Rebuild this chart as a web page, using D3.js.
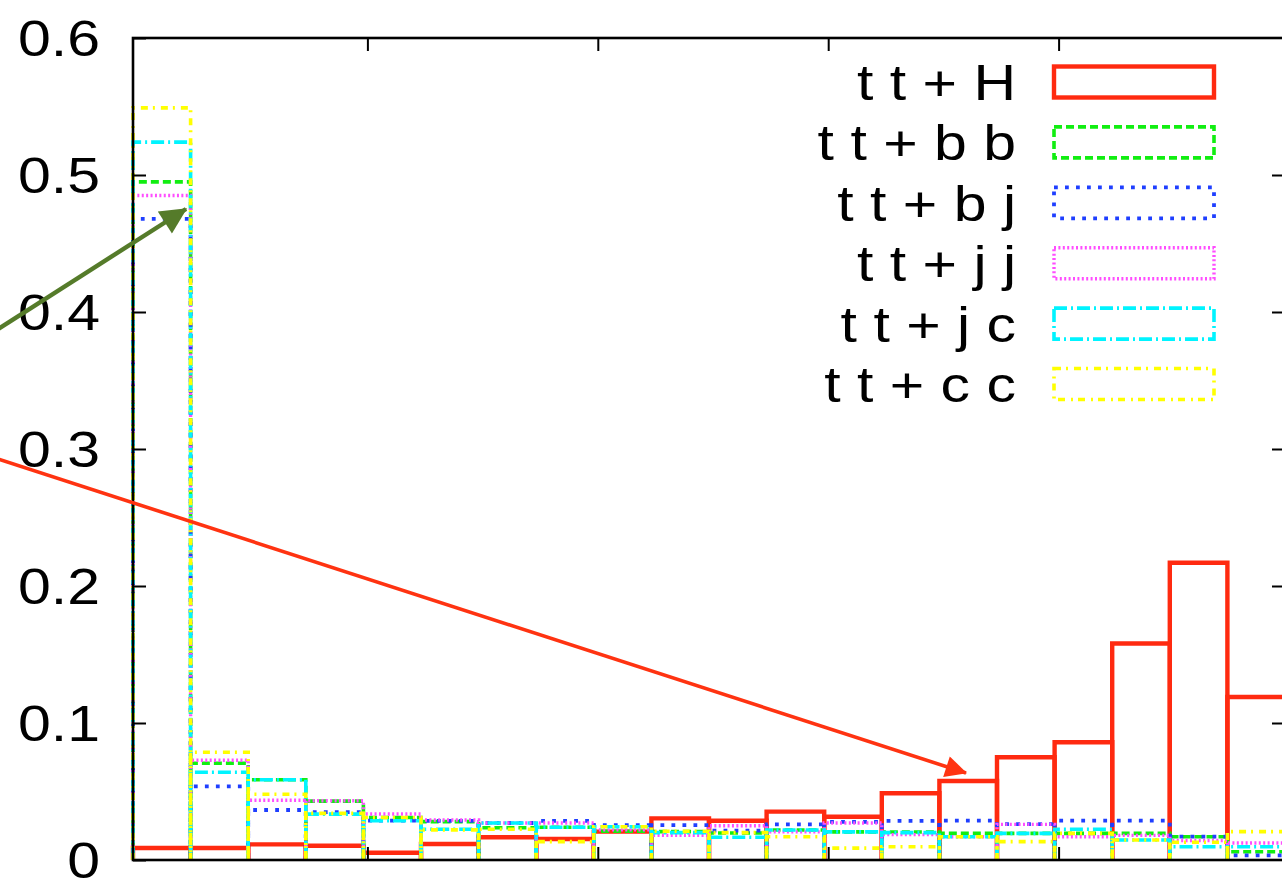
<!DOCTYPE html>
<html>
<head>
<meta charset="utf-8">
<script src="https://cdn.jsdelivr.net/npm/d3@7/dist/d3.min.js"></script>
<style>
  html, body { margin: 0; padding: 0; background: #fff; }
  svg { display: block; }
  text { font-family: "Liberation Sans", Arial, Helvetica, sans-serif; fill: #000; }
</style>
</head>
<body>
<svg id="chart" width="1282" height="881"></svg>
<script>
// Bin indices along the horizontal axis (20 equal-width bins)
const bins = [0, 1, 2, 3, 4, 5, 6, 7, 8, 9, 10, 11, 12, 13, 14, 15, 16, 17, 18, 19];

// Normalised distributions per process
const ttH  = [0.0088, 0.0088, 0.0114, 0.0104, 0.0053, 0.0117, 0.0166, 0.0153, 0.0207, 0.0304,
              0.0287, 0.0353, 0.0316, 0.0487, 0.0577, 0.0750, 0.0860, 0.1580, 0.2170, 0.1190];
const ttbb = [0.495, 0.0706, 0.0586, 0.0430, 0.0310, 0.0280, 0.0235, 0.0239, 0.0210, 0.0207,
              0.0197, 0.0219, 0.0205, 0.0204, 0.0194, 0.0194, 0.0194, 0.0194, 0.0170, 0.0060];
const ttbj = [0.468, 0.0538, 0.0365, 0.0350, 0.0287, 0.0285, 0.0270, 0.0285, 0.0255, 0.0255,
              0.0215, 0.0260, 0.0278, 0.0286, 0.0288, 0.0262, 0.0287, 0.0287, 0.0170, 0.0034];
const ttjj = [0.485, 0.0728, 0.0436, 0.0432, 0.0336, 0.0292, 0.0270, 0.0270, 0.0220, 0.0180,
              0.0250, 0.0205, 0.0270, 0.0185, 0.0170, 0.0260, 0.0170, 0.0180, 0.0142, 0.0124];
const ttjc = [0.524, 0.0640, 0.0586, 0.0335, 0.0287, 0.0225, 0.0270, 0.0239, 0.0243, 0.0200,
              0.0166, 0.0219, 0.0205, 0.0200, 0.0170, 0.0194, 0.0224, 0.0146, 0.0097, 0.0097];
const ttcc = [0.549, 0.0786, 0.0480, 0.0340, 0.0310, 0.0220, 0.0225, 0.0134, 0.0243, 0.0210,
              0.0200, 0.0170, 0.0087, 0.0097, 0.0170, 0.0134, 0.0194, 0.0146, 0.0130, 0.0207];

const seriesNames = ["t t + H", "t t + b b", "t t + b j", "t t + j j", "t t + j c", "t t + c c"];
const seriesValues = [ttH, ttbb, ttbj, ttjj, ttjc, ttcc];

// Y tick labels
const yTicks = [0, 0.1, 0.2, 0.3, 0.4, 0.5, 0.6];
const yTickLabels = ["0", "0.1", "0.2", "0.3", "0.4", "0.5", "0.6"];
// Mirrored tick marks on the horizontal axes (every 4 bins)
const xTicks = [4, 8, 12, 16];

// Line styles for each process
const styles = [
  { color: "#ff2a10", width: 4.4, dash: null },
  { color: "#11ee11", width: 3.6, dash: "8,4" },
  { color: "#1f3fff", width: 3.8, dash: "3.8,7.2" },
  { color: "#ff4dff", width: 3.4, dash: "2,2.4" },
  { color: "#00f4ff", width: 3.6, dash: "13,4,2,4" },
  { color: "#ffff00", width: 3.6, dash: "7,5,2,6" }
];

const svg = d3.select("#chart");
const plotL = 133, plotR = 1285, plotT = 38, plotB = 860;
const x = d3.scaleLinear().domain([0, 20]).range([plotL, plotR]);
const y = d3.scaleLinear().domain([0, 0.6]).range([plotB, plotT]);

const fontSize = 50, stretch = 1.18;

// Histogram boxes: each bin drawn as an open box (left, top, right sides)
const plot = svg.append("g");
seriesValues.forEach((vals, si) => {
  const st = styles[si];
  plot.append("g")
    .selectAll("path")
    .data(bins)
    .join("path")
    .attr("d", b => {
      const x0 = x(b), x1 = x(b + 1), yv = y(vals[b]), y0 = y(0);
      return `M${x0},${y0}L${x0},${yv}L${x1},${yv}L${x1},${y0}`;
    })
    .attr("fill", "none")
    .attr("stroke", st.color)
    .attr("stroke-width", st.width)
    .attr("stroke-dasharray", st.dash)
    .attr("stroke-linejoin", "miter");
});

// Frame and axes
const frame = svg.append("g");
frame.append("rect")
  .attr("x", plotL).attr("y", plotT)
  .attr("width", plotR - plotL).attr("height", plotB - plotT)
  .attr("fill", "none").attr("stroke", "#000").attr("stroke-width", 2.6);

const yAxis = d3.axisLeft(y).tickValues(yTicks)
  .tickFormat((d, i) => yTickLabels[i]).tickSize(-13).tickPadding(33);
const gy = svg.append("g").attr("transform", `translate(${plotL},0)`).call(yAxis);
gy.select(".domain").remove();
gy.selectAll(".tick line").attr("stroke", "#000").attr("stroke-width", 2);
gy.selectAll(".tick text")
  .attr("x", 0)
  .attr("dy", "0.35em")
  .attr("transform", `translate(-33,0) scale(${stretch},1)`)
  .style("font-size", fontSize + "px")
  .style("font-family", "'Liberation Sans', Arial, sans-serif");

const yAxisR = d3.axisRight(y).tickValues(yTicks.slice(1, -1)).tickSize(-13).tickFormat("");
const gyr = svg.append("g").attr("transform", `translate(${plotR},0)`).call(yAxisR);
gyr.select(".domain").remove();
gyr.selectAll(".tick line").attr("stroke", "#000").attr("stroke-width", 2);

const xTop = d3.axisTop(x).tickValues(xTicks).tickSize(-13).tickFormat("");
const gxt = svg.append("g").attr("transform", `translate(4,${plotT})`).call(xTop);
gxt.select(".domain").remove();
gxt.selectAll(".tick line").attr("stroke", "#000").attr("stroke-width", 2);

const xBot = d3.axisBottom(x).tickValues(xTicks).tickSize(-13).tickFormat("");
const gxb = svg.append("g").attr("transform", `translate(4,${plotB})`).call(xBot);
gxb.select(".domain").remove();
gxb.selectAll(".tick line").attr("stroke", "#000").attr("stroke-width", 2);

// Legend
const legend = svg.append("g");
const legRow0 = 82, legStep = 60.4, legTextX = 1016, sampleX0 = 1054, sampleX1 = 1214, sampleH = 31;
seriesNames.forEach((name, i) => {
  const cy = legRow0 + i * legStep;
  legend.append("text")
    .attr("x", 0).attr("y", 0).attr("dy", "0.36em")
    .attr("text-anchor", "end")
    .attr("transform", `translate(${legTextX},${cy}) scale(${stretch},1)`)
    .style("font-size", fontSize + "px")
    .text(name);
  const st = styles[i];
  legend.append("rect")
    .attr("x", sampleX0).attr("y", cy - sampleH / 2)
    .attr("width", sampleX1 - sampleX0).attr("height", sampleH)
    .attr("fill", "none")
    .attr("stroke", st.color)
    .attr("stroke-width", st.width)
    .attr("stroke-dasharray", st.dash);
});

// Annotation arrows
const defs = svg.append("defs");
function marker(id, color) {
  defs.append("marker")
    .attr("id", id).attr("viewBox", "0 0 10 10")
    .attr("refX", 9.5).attr("refY", 5)
    .attr("markerWidth", 7.5).attr("markerHeight", 6)
    .attr("markerUnits", "strokeWidth")
    .attr("orient", "auto")
    .append("path").attr("d", "M0,0L10,5L0,10Z").attr("fill", color);
}
marker("headGreen", "#557b2a");
marker("headRed", "#ff3311");

const arrows = svg.append("g");
arrows.append("line")
  .attr("x1", -5).attr("y1", 331).attr("x2", 186).attr("y2", 209)
  .attr("stroke", "#557b2a").attr("stroke-width", 4.4)
  .attr("marker-end", "url(#headGreen)");
arrows.append("line")
  .attr("x1", -5).attr("y1", 458).attr("x2", 966).attr("y2", 773)
  .attr("stroke", "#ff3311").attr("stroke-width", 3.6)
  .attr("marker-end", "url(#headRed)");
</script>
</body>
</html>
